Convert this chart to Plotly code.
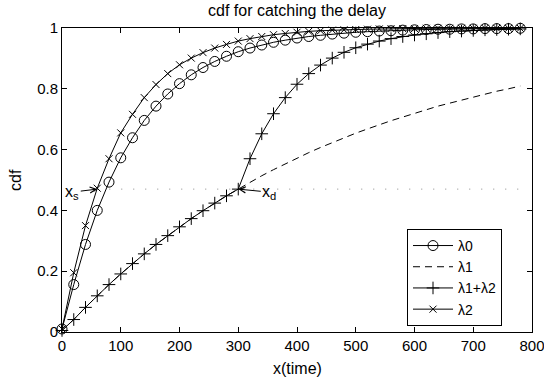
import plotly.graph_objects as go

x_vals = [0, 20, 40, 60, 80, 100, 120, 140, 160, 180, 200, 220, 240, 260, 280, 300,
          320, 340, 360, 380, 400, 420, 440, 460, 480, 500, 520, 540, 560, 580, 600,
          620, 640, 660, 680, 700, 720, 740, 760, 780]

lam0 = [0.010, 0.156, 0.288, 0.400, 0.493, 0.573, 0.639, 0.696, 0.743, 0.783, 0.817,
        0.846, 0.870, 0.890, 0.907, 0.922, 0.934, 0.944, 0.953, 0.960, 0.967, 0.972,
        0.976, 0.980, 0.983, 0.986, 0.988, 0.990, 0.991, 0.993, 0.994, 0.995, 0.996,
        0.996, 0.997, 0.997, 0.998, 0.998, 0.998, 0.999]

lam1 = [0.005, 0.041, 0.081, 0.119, 0.156, 0.191, 0.225, 0.257, 0.288, 0.317, 0.346,
        0.373, 0.399, 0.424, 0.448, 0.470, 0.493, 0.514, 0.534, 0.553, 0.572, 0.590,
        0.607, 0.623, 0.639, 0.654, 0.668, 0.682, 0.695, 0.707, 0.720, 0.731, 0.743,
        0.753, 0.763, 0.773, 0.783, 0.792, 0.800, 0.809]

lam12 = [0.005, 0.041, 0.081, 0.119, 0.156, 0.191, 0.225, 0.257, 0.288, 0.317, 0.346,
         0.373, 0.399, 0.424, 0.448, 0.470, 0.570, 0.652, 0.718, 0.771, 0.815, 0.850,
         0.878, 0.901, 0.920, 0.935, 0.947, 0.957, 0.965, 0.972, 0.977, 0.981, 0.985,
         0.988, 0.990, 0.992, 0.994, 0.995, 0.996, 0.997]

lam2 = [0.010, 0.195, 0.350, 0.473, 0.570, 0.655, 0.716, 0.771, 0.814, 0.850, 0.879,
        0.901, 0.919, 0.934, 0.946, 0.957, 0.965, 0.972, 0.978, 0.982, 0.986, 0.989,
        0.991, 0.993, 0.994, 0.995, 0.996, 0.997, 0.998, 0.998, 0.998, 0.999, 0.999,
        0.999, 0.999, 0.999, 0.999, 0.999, 0.999, 0.999]

level_x = [60, 780]
level_y = [0.47, 0.47]
xs_point = (60, 0.47)
xd_point = (300, 0.47)

x_ticks = [0, 100, 200, 300, 400, 500, 600, 700, 800]
y_ticks = [0, 0.2, 0.4, 0.6, 0.8, 1]

FONT = "Liberation Sans, Arial, sans-serif"

fig = go.Figure()

fig.add_trace(go.Scatter(x=level_x, y=level_y, mode="lines", showlegend=False,
                         line=dict(color="#888888", width=1, dash="1px,11px"),
                         hoverinfo="skip"))

fig.add_trace(go.Scatter(x=x_vals, y=lam0, mode="lines+markers", name="λ0",
                         line=dict(color="black", width=1),
                         marker=dict(symbol="circle-open", size=10, color="black",
                                     line=dict(width=1, color="black")),
                         cliponaxis=False))

fig.add_trace(go.Scatter(x=x_vals, y=lam1, mode="lines", name="λ1",
                         line=dict(color="black", width=1, dash="7px,5px"),
                         cliponaxis=False))

fig.add_trace(go.Scatter(x=x_vals, y=lam12, mode="lines+markers", name="λ1+λ2",
                         line=dict(color="black", width=1),
                         marker=dict(symbol="cross-thin-open", size=9, color="black",
                                     line=dict(width=1, color="black")),
                         cliponaxis=False))

fig.add_trace(go.Scatter(x=x_vals, y=lam2, mode="lines+markers", name="λ2",
                         line=dict(color="black", width=1),
                         marker=dict(symbol="x-thin-open", size=7, color="black",
                                     line=dict(width=1, color="black")),
                         cliponaxis=False))

axis_common = dict(showgrid=False, zeroline=False, showline=True, linecolor="black",
                   linewidth=1, mirror="ticks", ticks="inside", ticklen=5,
                   tickcolor="black", tickwidth=1, ticklabeloverflow="allow",
                   automargin=False,
                   tickfont=dict(family=FONT, size=15, color="black"))

fig.update_xaxes(range=[0, 800], tickvals=x_ticks, **axis_common)
fig.update_yaxes(range=[0, 1], tickvals=y_ticks, **axis_common)

fig.update_layout(
    width=544, height=381,
    margin=dict(l=62, r=12, t=28, b=49, autoexpand=False),
    paper_bgcolor="white", plot_bgcolor="white",
    font=dict(family=FONT, size=15, color="black"),
    showlegend=True,
    legend=dict(x=(407 - 62) / 470, y=0.339, xanchor="left", yanchor="top",
                bordercolor="black", borderwidth=1, bgcolor="white",
                font=dict(family=FONT, size=14, color="black"),
                itemwidth=40, tracegroupgap=0),
    annotations=[
        dict(text="cdf for catching the delay", xref="paper", yref="paper",
             x=0.5, y=1 + 18 / 304, xanchor="center", yanchor="middle",
             showarrow=False, font=dict(size=16)),
        dict(text="x(time)", xref="paper", yref="paper",
             x=0.5, y=-36 / 304, xanchor="center", yanchor="middle",
             showarrow=False, font=dict(size=16)),
        dict(text="cdf", xref="paper", yref="paper",
             x=-47 / 470, y=0.5, xanchor="center", yanchor="middle",
             textangle=-90, showarrow=False, font=dict(size=16)),
        dict(text="x<sub>s</sub>", x=xs_point[0], y=xs_point[1], xref="x", yref="y",
             showarrow=True, ax=-25, ay=3, arrowhead=5, arrowsize=1.2,
             arrowwidth=1, arrowcolor="black", font=dict(size=16), standoff=0),
        dict(text="x<sub>d</sub>", x=xd_point[0], y=xd_point[1], xref="x", yref="y",
             showarrow=True, ax=31, ay=3, arrowhead=5, arrowsize=1.2,
             arrowwidth=1, arrowcolor="black", font=dict(size=16), standoff=0),
    ],
)

fig.write_html("out.html")
